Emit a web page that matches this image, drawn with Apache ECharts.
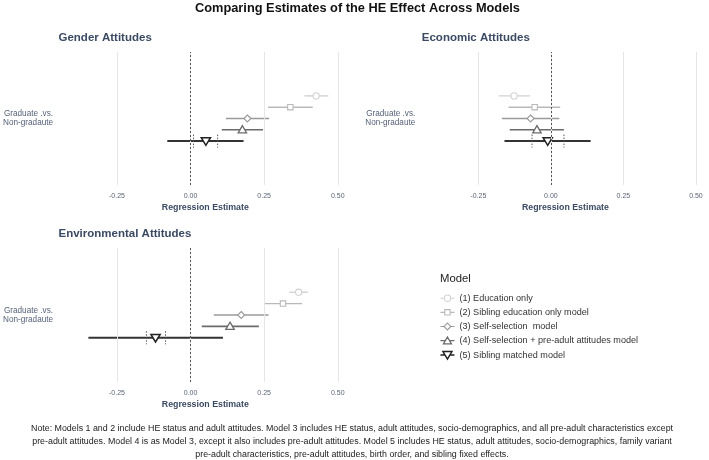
<!DOCTYPE html>
<html>
<head>
<meta charset="utf-8">
<script src="https://cdn.jsdelivr.net/npm/echarts@6/dist/echarts.min.js"></script>
<style>html,body{margin:0;padding:0;background:#fff}#c{width:709px;height:460px}</style>
</head>
<body>
<div id="c"></div>
<script>
// ---- data ----
const models = ['(1) Education only', '(2) Sibling education only model', '(3) Self-selection  model', '(4) Self-selection + pre-adult attitudes model', '(5) Sibling matched model'];
const yCategory = ['Graduate .vs.\nNon-gradaute'];
const xTicks = [-0.25, 0, 0.25, 0.5];

const genderEst = [0.427, 0.339, 0.193, 0.176, 0.052];
const genderLo  = [0.387, 0.263, 0.120, 0.106, -0.079];
const genderHi  = [0.468, 0.415, 0.267, 0.246, 0.180];
const genderInner = [0.010, 0.092];

const econEst = [-0.127, -0.056, -0.070, -0.048, -0.011];
const econLo  = [-0.180, -0.146, -0.169, -0.142, -0.160];
const econHi  = [-0.072, 0.032, 0.029, 0.045, 0.137];
const econInner = [-0.065, 0.045];

const envEst = [0.367, 0.314, 0.172, 0.134, -0.119];
const envLo  = [0.335, 0.252, 0.079, 0.038, -0.347];
const envHi  = [0.399, 0.379, 0.265, 0.232, 0.110];
const envInner = [-0.150, -0.085];

const noteText = 'Note: Models 1 and 2 include HE status and adult attitudes. Model 3 includes HE status, adult attitudes, socio-demographics, and all pre-adult characteristics except\npre-adult attitudes. Model 4 is as Model 3, except it also includes pre-adult attitudes. Model 5 includes HE status, adult attitudes, socio-demographics, family variant\npre-adult characteristics, pre-adult attitudes, birth order, and sibling fixed effects.';

// ---- style ----
const FONT = 'Liberation Sans, Arial, sans-serif';
const colors = ['#d2d2d2', '#b9b9b9', '#9a9a9a', '#6b6b6b', '#333333'];
const lineW = [1.4, 1.4, 1.4, 1.6, 2.0];
const markW = [1.1, 1.1, 1.1, 1.3, 1.5];
const DODGE = 0.085;
const XMIN = -0.445, XMAX = 0.545;
const titleColor = '#3b4a63';

const panels = [
  { title: 'Gender Attitudes', est: genderEst, lo: genderLo, hi: genderHi, inner: genderInner, left: 58.5, top: 52, height: 133 },
  { title: 'Economic Attitudes', est: econEst, lo: econLo, hi: econHi, inner: econInner, left: 421.8, top: 52, height: 133 },
  { title: 'Environmental Attitudes', est: envEst, lo: envLo, hi: envHi, inner: envInner, left: 58.5, top: 248, height: 134 }
];
const GRID_W = 292.5;

function markerEl(m, x, y) {
  const style = { fill: '#fff', stroke: m === 4 ? '#222' : colors[m], lineWidth: markW[m] };
  if (m === 0) return { type: 'circle', shape: { cx: x, cy: y, r: 3.1 }, style };
  if (m === 1) return { type: 'rect', shape: { x: x - 2.7, y: y - 2.7, width: 5.4, height: 5.4 }, style };
  if (m === 2) return { type: 'polygon', shape: { points: [[x, y - 3.5], [x + 3.5, y], [x, y + 3.5], [x - 3.5, y]] }, style };
  if (m === 3) return { type: 'polygon', shape: { points: [[x, y - 4.2], [x + 4.2, y + 3], [x - 4.2, y + 3]] }, style };
  return { type: 'polygon', shape: { points: [[x - 4.6, y - 3.4], [x + 4.6, y - 3.4], [x, y + 4.2]] }, style };
}

function makeRender(m) {
  return function (params, api) {
    const lo = api.value(0), hi = api.value(1), est = api.value(2);
    const c = api.coord([est, 0]);
    const band = api.size([0, 1])[1];
    const y = c[1] + (m - 2) * band * DODGE;
    const x0 = api.coord([lo, 0])[0], x1 = api.coord([hi, 0])[0];
    const children = [{ type: 'line', shape: { x1: x0, y1: y, x2: x1, y2: y }, style: { stroke: colors[m], lineWidth: lineW[m] } }];
    if (m === 4) {
      [api.value(3), api.value(4)].forEach(function (v) {
        const px = api.coord([v, 0])[0];
        children.push({ type: 'line', shape: { x1: px, y1: y - 6.5, x2: px, y2: y + 6.5 }, style: { stroke: '#555', lineWidth: 1, lineDash: [1.5, 1.5] } });
      });
    }
    children.push(markerEl(m, c[0], y));
    return { type: 'group', children };
  };
}

const grid = [], xAxis = [], yAxis = [], series = [], title = [];
title.push({ text: 'Comparing Estimates of the HE Effect Across Models', left: 195, top: 2, padding: 0,
  textStyle: { fontSize: 12.8, fontWeight: 'bold', color: '#111', fontFamily: FONT } });
title.push({ text: 'Model', left: 440, top: 273, padding: 0,
  textStyle: { fontSize: 11.3, fontWeight: 'normal', color: '#222', fontFamily: FONT } });

panels.forEach(function (p, gi) {
  grid.push({ left: p.left, top: p.top, width: GRID_W, height: p.height });
  title.push({ text: p.title, left: p.left, top: p.top - 20.3, padding: 0,
    textStyle: { fontSize: 11.5, fontWeight: 'bold', color: titleColor, fontFamily: FONT } });
  xAxis.push({
    gridIndex: gi, type: 'value', min: XMIN, max: XMAX,
    axisLine: { show: false }, axisTick: { show: false }, splitLine: { show: false },
    axisLabel: { customValues: xTicks, formatter: function (v) { return v.toFixed(2); }, fontSize: 7, color: '#5b6577', margin: 8, fontFamily: FONT },
    name: 'Regression Estimate', nameLocation: 'middle', nameGap: 18.5,
    nameTextStyle: { fontSize: 8.8, fontWeight: 'bold', color: titleColor, fontFamily: FONT }
  });
  yAxis.push({
    gridIndex: gi, type: 'category', data: yCategory,
    axisLine: { show: false }, axisTick: { show: false }, splitLine: { show: false },
    axisLabel: { fontSize: 8.2, color: '#56627a', margin: 6.5, lineHeight: 9.4, align: 'right', fontFamily: FONT }
  });
  // grid lines and zero reference line
  series.push({
    name: 'ref' + gi, type: 'line', xAxisIndex: gi, yAxisIndex: gi, data: [], z: 1, silent: true,
    markLine: {
      silent: true, symbol: ['none', 'none'], label: { show: false }, animation: false,
      data: xTicks.map(function (v) { return { xAxis: v, lineStyle: { color: '#e6e6e6', width: 1, type: 'solid' } }; })
        .concat([{ xAxis: 0, lineStyle: { color: '#555', width: 1, type: [2, 2] } }])
    }
  });
  for (let m = 0; m < 5; m++) {
    const inner = m === 4 ? p.inner : [NaN, NaN];
    series.push({
      name: models[m], type: 'custom', xAxisIndex: gi, yAxisIndex: gi, z: 3,
      renderItem: makeRender(m),
      encode: { x: [0, 1, 2], y: 5 },
      data: [[p.lo[m], p.hi[m], p.est[m], inner[0], inner[1], 0]],
      animation: false
    });
  }
});

const icons = [
  'path://M0 4.5L3.8 4.5M10.2 4.5L14 4.5M10.2 4.5A3.2 3.2 0 1 1 3.8 4.5A3.2 3.2 0 1 1 10.2 4.5ZM7 0M7 9',
  'path://M0 4.5L4.3 4.5M9.7 4.5L14 4.5M4.3 1.8L9.7 1.8L9.7 7.2L4.3 7.2ZM7 0M7 9',
  'path://M0 4.5L3.6 4.5M10.4 4.5L14 4.5M7 1.1L10.4 4.5L7 7.9L3.6 4.5ZM7 0M7 9',
  'path://M0 4.5L4.9 4.5M9.1 4.5L14 4.5M7 0.8L11 7.8L3 7.8ZM7 0M7 9',
  'path://M0 4.5L4.6 4.5M9.4 4.5L14 4.5M2.5 1L11.5 1L7 8.5ZM7 0M7 9'
];

const chart = echarts.init(document.getElementById('c'), null, { renderer: 'canvas' });
chart.setOption({
  backgroundColor: '#fff',
  animation: false,
  title: title,
  grid: grid,
  xAxis: xAxis,
  yAxis: yAxis,
  series: series,
  legend: {
    orient: 'vertical', left: 439.7, top: 293.2, padding: 0,
    itemWidth: 14, itemHeight: 9, itemGap: 4.0, selectedMode: false,
    textStyle: { fontSize: 9.1, color: '#333', fontFamily: FONT },
    data: models.map(function (n, i) {
      return { name: n, icon: icons[i], itemStyle: { color: '#fff', borderColor: i === 4 ? '#222' : colors[i], borderWidth: markW[i] } };
    })
  },
  graphic: [{
    type: 'text', x: 352, y: 441.5, silent: true,
    style: { text: noteText, font: '8.85px ' + FONT, align: 'center', verticalAlign: 'middle', lineHeight: 12.9, fill: '#222' }
  }]
});
</script>
</body>
</html>
